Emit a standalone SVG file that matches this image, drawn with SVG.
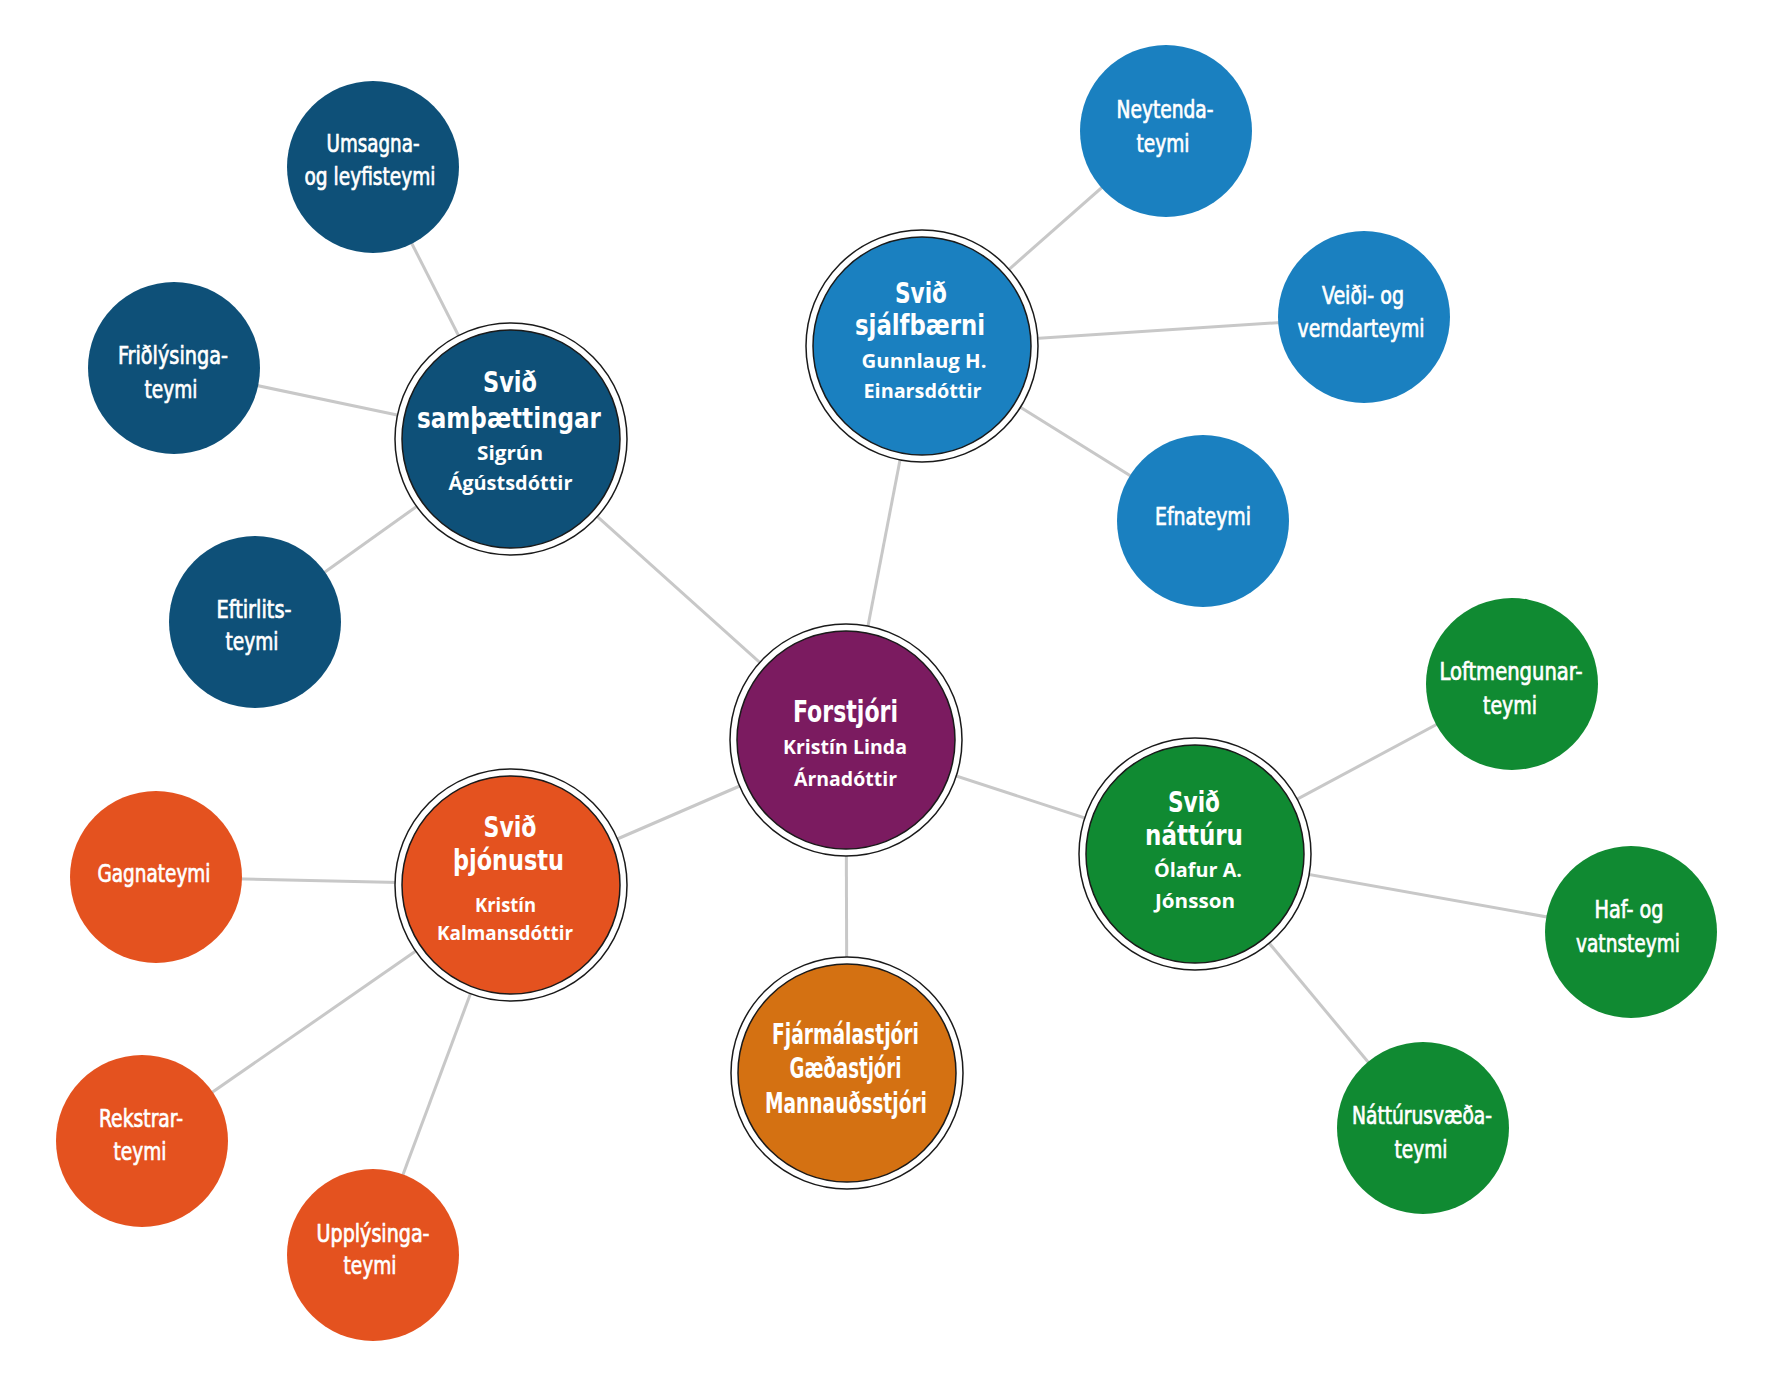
<svg xmlns="http://www.w3.org/2000/svg" width="1765" height="1380" viewBox="0 0 1765 1380">
<defs>
<style>
.bg{fill:#ffffff}
.con line{stroke:#c8c8c8;stroke-width:3;fill:none}
.ring{fill:#ffffff;stroke:#1a1a1a;stroke-width:1.5}
.core{stroke:#1a1a1a;stroke-width:1.5}
.c1{fill:#0e5078}
.c2{fill:#1a80c0}
.c3{fill:#108a32}
.c4{fill:#e4521f}
.c5{fill:#7b1b60}
.c6{fill:#d47112}
text{fill:#ffffff;text-anchor:middle}
.sat{font-family:"Liberation Sans Narrow","DejaVu Sans Condensed","Open Sans",sans-serif;font-size:25px;font-weight:400;stroke:#ffffff;stroke-width:0.7px}
.ttl{font-family:"Liberation Sans Narrow","DejaVu Sans Condensed","Open Sans",sans-serif;font-size:28px;font-weight:700}
.big{font-family:"Liberation Sans Narrow","DejaVu Sans Condensed","Open Sans",sans-serif;font-size:30px;font-weight:700}
.nm{font-family:"Open Sans","Noto Sans","DejaVu Sans",sans-serif;font-size:19px;font-weight:700}
</style>
</defs>
<rect class="bg" x="0" y="0" width="1765" height="1380"/>
<g id="connectors" class="con">
<line x1="511" y1="439" x2="373" y2="167"/>
<line x1="511" y1="439" x2="174" y2="368"/>
<line x1="511" y1="439" x2="255" y2="622"/>
<line x1="511" y1="439" x2="846" y2="740"/>
<line x1="922" y1="346" x2="1166" y2="131"/>
<line x1="922" y1="346" x2="1364" y2="317"/>
<line x1="922" y1="346" x2="1203" y2="521"/>
<line x1="922" y1="346" x2="846" y2="740"/>
<line x1="846" y1="740" x2="1195" y2="854"/>
<line x1="846" y1="740" x2="847" y2="1073"/>
<line x1="846" y1="740" x2="511" y2="885"/>
<line x1="1195" y1="854" x2="1512" y2="684"/>
<line x1="1195" y1="854" x2="1631" y2="932"/>
<line x1="1195" y1="854" x2="1423" y2="1128"/>
<line x1="511" y1="885" x2="156" y2="877"/>
<line x1="511" y1="885" x2="142" y2="1141"/>
<line x1="511" y1="885" x2="373" y2="1255"/>
</g>
<g id="umsagna"><circle class="c1" cx="373" cy="167" r="86"/><text class="sat" x="373" y="152" textLength="93" lengthAdjust="spacingAndGlyphs">Umsagna-</text><text class="sat" x="370" y="185" textLength="131" lengthAdjust="spacingAndGlyphs">og leyfisteymi</text></g>
<g id="fridlysinga"><circle class="c1" cx="174" cy="368" r="86"/><text class="sat" x="173" y="364" textLength="110" lengthAdjust="spacingAndGlyphs">Friðlýsinga-</text><text class="sat" x="171" y="398" textLength="53" lengthAdjust="spacingAndGlyphs">teymi</text></g>
<g id="eftirlits"><circle class="c1" cx="255" cy="622" r="86"/><text class="sat" x="254" y="618" textLength="75" lengthAdjust="spacingAndGlyphs">Eftirlits-</text><text class="sat" x="252" y="650" textLength="53" lengthAdjust="spacingAndGlyphs">teymi</text></g>
<g id="neytenda"><circle class="c2" cx="1166" cy="131" r="86"/><text class="sat" x="1165" y="118" textLength="97" lengthAdjust="spacingAndGlyphs">Neytenda-</text><text class="sat" x="1163" y="152" textLength="53" lengthAdjust="spacingAndGlyphs">teymi</text></g>
<g id="veidi"><circle class="c2" cx="1364" cy="317" r="86"/><text class="sat" x="1363" y="304" textLength="82" lengthAdjust="spacingAndGlyphs">Veiði- og</text><text class="sat" x="1361" y="337" textLength="127" lengthAdjust="spacingAndGlyphs">verndarteymi</text></g>
<g id="efna"><circle class="c2" cx="1203" cy="521" r="86"/><text class="sat" x="1203" y="525" textLength="96" lengthAdjust="spacingAndGlyphs">Efnateymi</text></g>
<g id="loftmengunar"><circle class="c3" cx="1512" cy="684" r="86"/><text class="sat" x="1511" y="680" textLength="143" lengthAdjust="spacingAndGlyphs">Loftmengunar-</text><text class="sat" x="1510" y="714" textLength="54" lengthAdjust="spacingAndGlyphs">teymi</text></g>
<g id="haf"><circle class="c3" cx="1631" cy="932" r="86"/><text class="sat" x="1629" y="918" textLength="69" lengthAdjust="spacingAndGlyphs">Haf- og</text><text class="sat" x="1628" y="952" textLength="104" lengthAdjust="spacingAndGlyphs">vatnsteymi</text></g>
<g id="natturusvaeda"><circle class="c3" cx="1423" cy="1128" r="86"/><text class="sat" x="1422" y="1124" textLength="140" lengthAdjust="spacingAndGlyphs">Náttúrusvæða-</text><text class="sat" x="1421" y="1158" textLength="53" lengthAdjust="spacingAndGlyphs">teymi</text></g>
<g id="gagna"><circle class="c4" cx="156" cy="877" r="86"/><text class="sat" x="154" y="882" textLength="113" lengthAdjust="spacingAndGlyphs">Gagnateymi</text></g>
<g id="rekstrar"><circle class="c4" cx="142" cy="1141" r="86"/><text class="sat" x="141" y="1127" textLength="84" lengthAdjust="spacingAndGlyphs">Rekstrar-</text><text class="sat" x="140" y="1160" textLength="53" lengthAdjust="spacingAndGlyphs">teymi</text></g>
<g id="upplysinga"><circle class="c4" cx="373" cy="1255" r="86"/><text class="sat" x="373" y="1242" textLength="113" lengthAdjust="spacingAndGlyphs">Upplýsinga-</text><text class="sat" x="370" y="1274" textLength="53" lengthAdjust="spacingAndGlyphs">teymi</text></g>
<g id="samthaettingar"><circle class="ring" cx="511" cy="439" r="116"/><circle class="core c1" cx="511" cy="439" r="109"/><text class="ttl" x="510" y="392" textLength="54" lengthAdjust="spacingAndGlyphs">Svið</text><text class="ttl" x="509" y="428" textLength="184" lengthAdjust="spacingAndGlyphs">samþættingar</text><text class="nm" x="510" y="460" textLength="66" lengthAdjust="spacingAndGlyphs">Sigrún</text><text class="nm" x="510.5" y="490" textLength="124" lengthAdjust="spacingAndGlyphs">Ágústsdóttir</text></g>
<g id="sjalfbaerni"><circle class="ring" cx="922" cy="346" r="116"/><circle class="core c2" cx="922" cy="346" r="109"/><text class="ttl" x="921" y="303" textLength="52" lengthAdjust="spacingAndGlyphs">Svið</text><text class="ttl" x="920" y="335" textLength="130" lengthAdjust="spacingAndGlyphs">sjálfbærni</text><text class="nm" x="924" y="368" textLength="125" lengthAdjust="spacingAndGlyphs">Gunnlaug H.</text><text class="nm" x="922.5" y="398" textLength="118" lengthAdjust="spacingAndGlyphs">Einarsdóttir</text></g>
<g id="forstjori"><circle class="ring" cx="846" cy="740" r="116"/><circle class="core c5" cx="846" cy="740" r="109"/><text class="big" x="845.5" y="722" textLength="105" lengthAdjust="spacingAndGlyphs">Forstjóri</text><text class="nm" x="845" y="754" textLength="124" lengthAdjust="spacingAndGlyphs">Kristín Linda</text><text class="nm" x="845.5" y="786" textLength="103" lengthAdjust="spacingAndGlyphs">Árnadóttir</text></g>
<g id="thjonustu"><circle class="ring" cx="511" cy="885" r="116"/><circle class="core c4" cx="511" cy="885" r="109"/><text class="ttl" x="510" y="837" textLength="53" lengthAdjust="spacingAndGlyphs">Svið</text><text class="ttl" x="508.5" y="870" textLength="111" lengthAdjust="spacingAndGlyphs">þjónustu</text><text class="nm" x="505.5" y="912" textLength="61" lengthAdjust="spacingAndGlyphs">Kristín</text><text class="nm" x="505" y="940" textLength="136" lengthAdjust="spacingAndGlyphs">Kalmansdóttir</text></g>
<g id="natturu"><circle class="ring" cx="1195" cy="854" r="116"/><circle class="core c3" cx="1195" cy="854" r="109"/><text class="ttl" x="1194" y="812" textLength="52" lengthAdjust="spacingAndGlyphs">Svið</text><text class="ttl" x="1194" y="845" textLength="98" lengthAdjust="spacingAndGlyphs">náttúru</text><text class="nm" x="1198" y="877" textLength="88" lengthAdjust="spacingAndGlyphs">Ólafur A.</text><text class="nm" x="1195" y="908" textLength="80" lengthAdjust="spacingAndGlyphs">Jónsson</text></g>
<g id="stjorar"><circle class="ring" cx="847" cy="1073" r="116"/><circle class="core c6" cx="847" cy="1073" r="109"/><text class="ttl" x="845.5" y="1044" textLength="147" lengthAdjust="spacingAndGlyphs">Fjármálastjóri</text><text class="ttl" x="845.5" y="1078" textLength="112" lengthAdjust="spacingAndGlyphs">Gæðastjóri</text><text class="ttl" x="846" y="1113" textLength="162" lengthAdjust="spacingAndGlyphs">Mannauðsstjóri</text></g>
</svg>
